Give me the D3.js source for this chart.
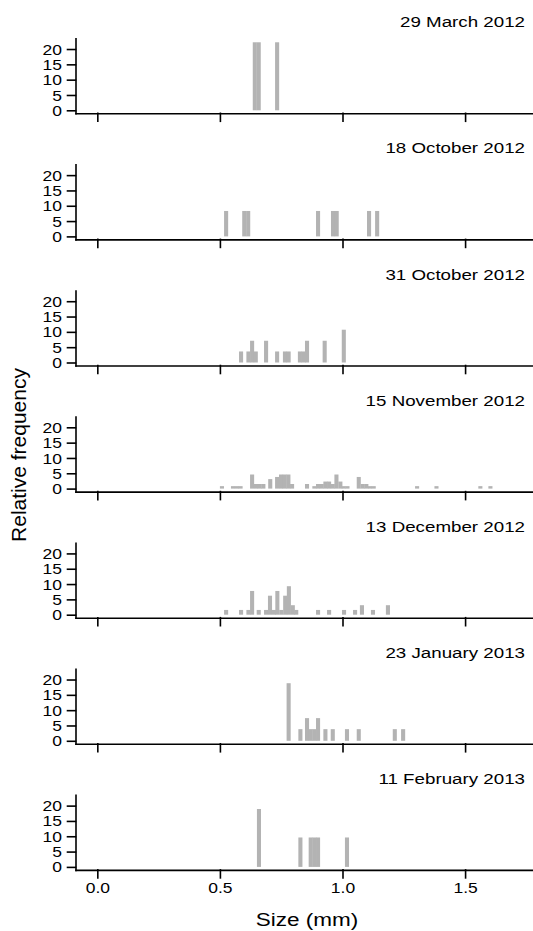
<!DOCTYPE html>
<html>
<head>
<meta charset="utf-8">
<script src="https://cdn.jsdelivr.net/npm/d3@7"></script>
<style>
  html, body { margin: 0; padding: 0; background: #fff; }
  svg { display: block; }
  text { font-family: "Liberation Sans", Arial, Helvetica, sans-serif; fill: #000; }
</style>
</head>
<body>
<svg id="chart" width="533" height="931"></svg>
<script>
(function () {
  'use strict';

  // sampling dates, one panel each
  const dates = [
    '29 March 2012',
    '18 October 2012',
    '31 October 2012',
    '15 November 2012',
    '13 December 2012',
    '23 January 2013',
    '11 February 2013'
  ];

  // [size class start (mm), relative frequency]
  const mar29 = [[0.634, 22.2], [0.650, 22.2], [0.725, 22.2]];
  const oct18 = [[0.517, 8.3], [0.591, 8.3], [0.607, 8.3], [0.892, 8.3], [0.953, 8.3],
    [0.968, 8.3], [1.100, 8.3], [1.133, 8.3]];
  const oct31 = [[0.578, 3.6], [0.608, 3.6], [0.623, 7.1], [0.638, 3.6], [0.680, 7.1],
    [0.725, 3.6], [0.757, 3.6], [0.772, 3.6], [0.818, 3.6], [0.833, 3.6], [0.847, 7.1],
    [0.919, 7.1], [0.997, 10.7]];
  const nov15 = [[0.500, 0.8], [0.545, 0.8], [0.561, 0.8], [0.576, 0.8], [0.623, 4.6],
    [0.639, 1.5], [0.654, 1.5], [0.669, 1.5], [0.697, 3.1], [0.725, 3.8], [0.741, 4.6],
    [0.756, 4.6], [0.771, 4.6], [0.786, 1.5], [0.847, 1.5], [0.877, 0.8], [0.892, 1.5],
    [0.907, 1.5], [0.922, 2.3], [0.937, 2.3], [0.952, 1.5], [0.967, 4.6], [0.983, 2.3],
    [0.997, 0.8], [1.012, 0.8], [1.058, 3.8], [1.074, 1.5], [1.089, 1.5], [1.104, 0.8],
    [1.119, 0.8], [1.296, 0.8], [1.375, 0.8], [1.554, 0.8], [1.595, 0.8]];
  const dec13 = [[0.517, 1.55], [0.578, 1.55], [0.608, 1.55], [0.623, 7.75], [0.650, 1.55],
    [0.680, 1.55], [0.696, 6.2], [0.712, 1.55], [0.726, 7.75], [0.742, 1.55], [0.758, 6.2],
    [0.773, 9.3], [0.789, 3.1], [0.803, 1.55], [0.892, 1.55], [0.937, 1.55], [0.998, 1.55],
    [1.043, 1.55], [1.071, 3.1], [1.116, 1.55], [1.177, 3.1]];
  const jan23 = [[0.772, 18.8], [0.820, 3.8], [0.847, 7.4], [0.862, 3.8], [0.877, 3.8],
    [0.892, 7.4], [0.922, 3.8], [0.952, 3.8], [1.010, 3.8], [1.058, 3.8], [1.205, 3.8],
    [1.239, 3.8]];
  const feb11 = [[0.651, 18.9], [0.820, 9.6], [0.862, 9.6], [0.877, 9.6], [0.892, 9.6],
    [1.010, 9.6]];

  const panels = [mar29, oct18, oct31, nov15, dec13, jan23, feb11];

  const yTicks = [0, 5, 10, 15, 20];
  const xTicks = [0, 0.5, 1.0, 1.5];

  const BIN = 0.015;
  const BAR_OVERLAP = 0.4;     // px, so neighbouring classes merge without seams
  const STRETCH = 1.25;       // text in the figure is drawn wide
  const LEFT = 75.5;
  const RIGHT = 533;
  const ZERO0 = 110.3;         // y of freq 0 in the first panel
  const STEP = 126.1;          // distance between panels
  const BAR_COLOR = '#b3b3b3';
  const AXIS_W = 1.6;

  const svg = d3.select('#chart');

  const x = d3.scaleLinear().domain([-0.089, 1.777]).range([LEFT, RIGHT]);

  panels.forEach((data, i) => {
    const zero = ZERO0 + STEP * i;
    const y = d3.scaleLinear().domain([-0.98, 23.5]).range([zero + 3, zero - 72]);
    const g = svg.append('g').attr('class', 'panel');
    const last = i === panels.length - 1;

    g.selectAll('rect')
      .data(data)
      .join('rect')
      .attr('x', d => x(d[0]))
      .attr('width', d => x(d[0] + BIN) - x(d[0]) + BAR_OVERLAP)
      .attr('y', d => y(d[1]))
      .attr('height', d => y(0) - y(d[1]))
      .attr('fill', BAR_COLOR);

    const yAxis = g.append('g')
      .attr('transform', `translate(${LEFT},0)`)
      .call(d3.axisLeft(y).tickValues(yTicks).tickSize(8).tickSizeOuter(0));
    yAxis.selectAll('text')
      .attr('x', -13.5 / STRETCH)
      .attr('dy', '0.36em')
      .attr('transform', `scale(${STRETCH},1)`)
      .style('font-size', '14px');

    const xAxis = g.append('g')
      .attr('transform', `translate(0,${zero + 3})`)
      .call(d3.axisBottom(x).tickValues(xTicks).tickSize(8).tickSizeOuter(0)
        .tickFormat(last ? d3.format('.1f') : () => ''));
    xAxis.selectAll('text')
      .attr('y', 13)
      .attr('transform', `scale(${STRETCH},1)`)
      .style('font-size', '14px');

    g.selectAll('.domain, .tick line')
      .attr('stroke', '#000')
      .attr('stroke-width', AXIS_W)
      .attr('stroke-linecap', 'square');

    g.append('text')
      .attr('transform', `translate(525,${27.3 + STEP * i}) scale(${STRETCH},1)`)
      .attr('text-anchor', 'end')
      .style('font-size', '15px')
      .text(dates[i]);
  });

  svg.append('text')
    .attr('transform', `translate(307,926) scale(${STRETCH},1)`)
    .attr('text-anchor', 'middle')
    .style('font-size', '18px')
    .text('Size (mm)');

  svg.append('text')
    .attr('transform', 'translate(26,455) rotate(-90)')
    .attr('text-anchor', 'middle')
    .style('font-size', '21px')
    .text('Relative frequency');
})();
</script>
</body>
</html>
